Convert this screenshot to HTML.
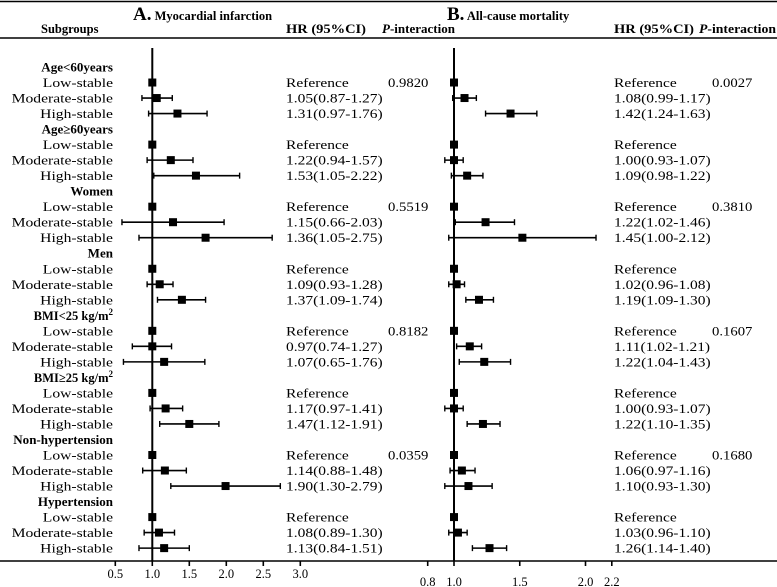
<!DOCTYPE html>
<html><head><meta charset="utf-8"><style>
html,body{margin:0;padding:0;background:#fff;}
svg{display:block;font-family:"Liberation Serif",serif;}
</style></head><body>
<svg id="chart" width="777" height="587" viewBox="0 0 777 587" xmlns="http://www.w3.org/2000/svg">
<line x1="0" y1="1.5" x2="777" y2="1.5" stroke="#000" stroke-width="1.6"/>
<line x1="0" y1="38" x2="777" y2="38" stroke="#000" stroke-width="1.6"/>
<line x1="0" y1="561" x2="777" y2="561" stroke="#000" stroke-width="1.6"/>
<text x="133" y="20" font-weight="bold"><tspan font-size="19">A.</tspan><tspan font-size="12.5"> Myocardial infarction</tspan></text>
<text x="447" y="20" font-weight="bold"><tspan font-size="19">B.</tspan><tspan font-size="12.5"> All-cause mortality</tspan></text>
<text x="41" y="33" font-weight="bold" font-size="12.5">Subgroups</text>
<text x="286" y="33" font-weight="bold" font-size="13" textLength="80" lengthAdjust="spacingAndGlyphs">HR (95%CI)</text>
<text x="382" y="33" font-weight="bold" font-size="13" textLength="73" lengthAdjust="spacingAndGlyphs"><tspan font-style="italic">P</tspan>-interaction</text>
<text x="614" y="33" font-weight="bold" font-size="13" textLength="80" lengthAdjust="spacingAndGlyphs">HR (95%CI)</text>
<text x="699" y="33" font-weight="bold" font-size="13" textLength="77" lengthAdjust="spacingAndGlyphs"><tspan font-style="italic">P</tspan>-interaction</text>
<g id="rows"></g>
</svg>
<script>
const groups = ["Age<60years","Age≥60years","Women","Men","BMI<25 kg/m","BMI≥25 kg/m","Non-hypertension","Hypertension"];
const levels = ["Low-stable","Moderate-stable","High-stable"];
const miEst = [[1,1.06,1.34],[1,1.25,1.59],[1,1.28,1.72],[1,1.10,1.40],[1,1.00,1.16],[1,1.18,1.50],[1,1.17,1.99],[1,1.09,1.16]];
const miLo  = [[1,0.86,0.95],[1,0.93,1.02],[1,0.59,0.82],[1,0.93,1.07],[1,0.73,0.61],[1,0.97,1.10],[1,0.87,1.25],[1,0.89,0.82]];
const miHi  = [[1,1.27,1.74],[1,1.55,2.18],[1,1.97,2.62],[1,1.28,1.72],[1,1.26,1.71],[1,1.41,1.90],[1,1.46,2.73],[1,1.30,1.50]];
const acEst = [[1,1.08,1.43],[1,1.00,1.10],[1,1.24,1.52],[1,1.02,1.19],[1,1.12,1.23],[1,1.00,1.22],[1,1.06,1.11],[1,1.03,1.27]];
const acLo  = [[1,0.99,1.24],[1,0.93,0.98],[1,1.01,0.96],[1,0.96,1.09],[1,1.02,1.04],[1,0.93,1.10],[1,0.97,0.93],[1,0.96,1.14]];
const acHi  = [[1,1.17,1.63],[1,1.07,1.22],[1,1.46,2.08],[1,1.08,1.30],[1,1.21,1.43],[1,1.07,1.35],[1,1.16,1.29],[1,1.10,1.40]];
const miText = [["Reference","1.05(0.87-1.27)","1.31(0.97-1.76)"],["Reference","1.22(0.94-1.57)","1.53(1.05-2.22)"],["Reference","1.15(0.66-2.03)","1.36(1.05-2.75)"],["Reference","1.09(0.93-1.28)","1.37(1.09-1.74)"],["Reference","0.97(0.74-1.27)","1.07(0.65-1.76)"],["Reference","1.17(0.97-1.41)","1.47(1.12-1.91)"],["Reference","1.14(0.88-1.48)","1.90(1.30-2.79)"],["Reference","1.08(0.89-1.30)","1.13(0.84-1.51)"]];
const acText = [["Reference","1.08(0.99-1.17)","1.42(1.24-1.63)"],["Reference","1.00(0.93-1.07)","1.09(0.98-1.22)"],["Reference","1.22(1.02-1.46)","1.45(1.00-2.12)"],["Reference","1.02(0.96-1.08)","1.19(1.09-1.30)"],["Reference","1.11(1.02-1.21)","1.22(1.04-1.43)"],["Reference","1.00(0.93-1.07)","1.22(1.10-1.35)"],["Reference","1.06(0.97-1.16)","1.10(0.93-1.30)"],["Reference","1.03(0.96-1.10)","1.26(1.14-1.40)"]];
const miP = ["0.9820","","0.5519","","0.8182","","0.0359",""];
const acP = ["0.0027","","0.3810","","0.1607","","0.1680",""];
const miTicks = ["0.5","1.0","1.5","2.0","2.5","3.0"];
const acTicks = ["0.8","1.0","1.5","2.0","2.2"];

const NS="http://www.w3.org/2000/svg";
const g=document.getElementById('rows');
const xA=v=>152.3+(v-1)*74;
const xB=v=>454+(v-1)*131.5;
const rowY=i=>67+i*15.52;
function mk(tag,attrs,parent){const e=document.createElementNS(NS,tag);for(const k in attrs)e.setAttribute(k,attrs[k]);(parent||g).appendChild(e);return e;}
function txt(x,y,s,anchor,bold,size,stretch){
  const t=mk('text',{x:x,y:y,'font-size':size||13,'text-anchor':anchor||'start'});
  if(bold)t.setAttribute('font-weight','bold');
  t.textContent=s;
  if(stretch&&stretch!==1){
    const w=t.getComputedTextLength();
    if(w>0){t.setAttribute('textLength',(w*stretch).toFixed(1));t.setAttribute('lengthAdjust','spacingAndGlyphs');}
  }
  return t;
}

let l=mk('line',{x1:xA(1),y1:48,x2:xA(1),y2:561,stroke:'#000','stroke-width':2});


l=mk('line',{x1:xB(1),y1:48,x2:xB(1),y2:561,stroke:'#000','stroke-width':2});



function drawCI(sc,est,lo,hi,y,name){
  const gg=mk('g',{});
  
  
  if(hi!==lo){
    mk('line',{x1:sc(lo),y1:y,x2:sc(hi),y2:y,stroke:'#000','stroke-width':1.6},gg);
    mk('line',{x1:sc(lo),y1:y-3,x2:sc(lo),y2:y+3,stroke:'#000','stroke-width':1.4},gg);
    mk('line',{x1:sc(hi),y1:y-3,x2:sc(hi),y2:y+3,stroke:'#000','stroke-width':1.4},gg);
  }
  mk('rect',{x:sc(est)-4,y:y-4,width:8,height:8,fill:'#000'},gg);
}

groups.forEach((gname,gi)=>{
  const yh=rowY(gi*4);
  let t;
  if(gname.indexOf('kg/m')>=0){
    t=txt(113,yh+4.5,'','end',true,12.5);
    t.textContent=gname;
    const sup=mk('tspan',{dy:-5,'font-size':9},t);sup.textContent='2';
  } else t=txt(113,yh+4.5,gname,'end',true,12.5,1.04);
  
  
  levels.forEach((lv,li)=>{
    const y=rowY(gi*4+1+li);
    let s=txt(113,y+4.5,lv,'end',false,13,1.2);
    
    
    s=txt(286,y+4.5,miText[gi][li],'start',false,13,1.19);
    
    
    s=txt(614,y+4.5,acText[gi][li],'start',false,13,1.19);
    
    
    drawCI(xA,miEst[gi][li],miLo[gi][li],miHi[gi][li],y,'mi-estimate');
    drawCI(xB,acEst[gi][li],acLo[gi][li],acHi[gi][li],y,'acm-estimate');
    if(li===0){
      if(miP[gi]){s=txt(388,y+4.5,miP[gi],'start',false,13,1.13);}
      if(acP[gi]){s=txt(712,y+4.5,acP[gi],'start',false,13,1.13);}
    }
  });
});

miTicks.forEach(tk=>{
  const x=xA(parseFloat(tk));
  const tl=mk('line',{x1:x,y1:561,x2:x,y2:566,stroke:'#000','stroke-width':1.6});
  
  
  const t=txt(x,578,tk,'middle',false,12.5);
  
  
});
acTicks.forEach(tk=>{
  const x=xB(parseFloat(tk));
  const tl=mk('line',{x1:x,y1:561,x2:x,y2:566,stroke:'#000','stroke-width':1.6});
  
  
  const t=txt(x,586,tk,'middle',false,12.5);
  
  
});
</script>
</body></html>
